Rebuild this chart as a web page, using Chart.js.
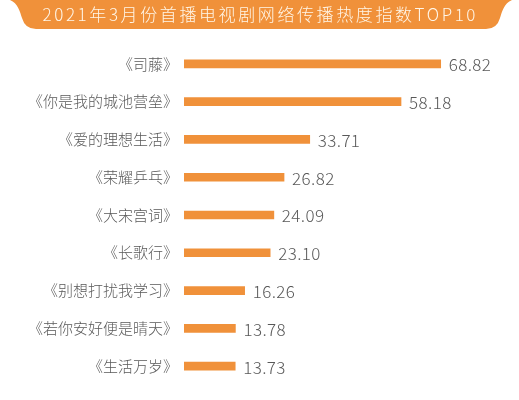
<!DOCTYPE html>
<html>
<head>
<meta charset="utf-8">
<script src="https://cdn.jsdelivr.net/npm/chart.js@4"></script>
<style>
html,body{margin:0;padding:0;background:#fff;}
#wrap{width:519px;height:400px;position:relative;}
</style>
</head>
<body>
<div id="wrap"><canvas id="c"></canvas></div>
<script>
const titleText = "2021年3月份首播电视剧网络传播热度指数TOP10";
const categories = ["《司藤》","《你是我的城池营垒》","《爱的理想生活》","《荣耀乒乓》","《大宋宫词》","《长歌行》","《别想打扰我学习》","《若你安好便是晴天》","《生活万岁》"];
const values = [68.82, 58.18, 33.71, 26.82, 24.09, 23.10, 16.26, 13.78, 13.73];
const valueLabels = ["68.82","58.18","33.71","26.82","24.09","23.10","16.26","13.78","13.73"];

const ORANGE = "#F0913A";
const GRAY = "#595959";

const titleBanner = {
  id: "titleBanner",
  beforeDraw(chart) {
    const ctx = chart.ctx;
    ctx.save();
    ctx.fillStyle = ORANGE;
    ctx.beginPath();
    ctx.moveTo(10, 0);
    ctx.lineTo(512, 0);
    ctx.bezierCurveTo(504, 3, 502, 12, 500, 18);
    ctx.quadraticCurveTo(497, 29, 486, 29);
    ctx.lineTo(36, 29);
    ctx.quadraticCurveTo(25, 29, 22, 18);
    ctx.bezierCurveTo(20, 12, 18, 3, 10, 0);
    ctx.closePath();
    ctx.fill();
    ctx.font = "300 17px 'Noto Sans CJK SC'";
    ctx.fillStyle = "#FFF6E8";
    ctx.textBaseline = "middle";
    ctx.textAlign = "left";
    const ls = 2.6;
    ctx.letterSpacing = ls + "px";
    const w = ctx.measureText(titleText).width - ls;
    ctx.fillText(titleText, 259 - w / 2, 14.5);
    ctx.restore();
  }
};

const valueLabelPlugin = {
  id: "valueLabels",
  afterDatasetsDraw(chart) {
    const ctx = chart.ctx;
    const meta = chart.getDatasetMeta(0);
    ctx.save();
    ctx.font = "300 17px 'Noto Sans CJK SC'";
    ctx.fillStyle = GRAY;
    ctx.textAlign = "left";
    ctx.textBaseline = "middle";
    ctx.letterSpacing = "0.4px";
    meta.data.forEach((bar, i) => {
      ctx.fillText(valueLabels[i], bar.x + 8, bar.y + 1);
    });
    ctx.restore();
  }
};

new Chart(document.getElementById("c"), {
  type: "bar",
  data: {
    labels: categories,
    datasets: [{
      data: values,
      backgroundColor: ORANGE,
      borderWidth: 0,
      barThickness: 8
    }]
  },
  options: {
    indexAxis: "y",
    responsive: true,
    maintainAspectRatio: false,
    animation: false,
    layout: { padding: { left: 0, right: 36.6, top: 45, bottom: 10 } },
    plugins: {
      legend: { display: false },
      title: { display: false },
      tooltip: { enabled: false }
    },
    scales: {
      x: {
        display: false,
        min: 0,
        max: 80
      },
      y: {
        grid: { display: false, drawTicks: false, drawOnChartArea: false },
        border: { display: false },
        afterFit(scale) { scale.width = 184; },
        ticks: {
          padding: 6,
          color: GRAY,
          font: { family: "'Noto Sans CJK SC'", size: 15, weight: 300 }
        }
      }
    }
  },
  plugins: [titleBanner, valueLabelPlugin]
});
</script>
</body>
</html>
